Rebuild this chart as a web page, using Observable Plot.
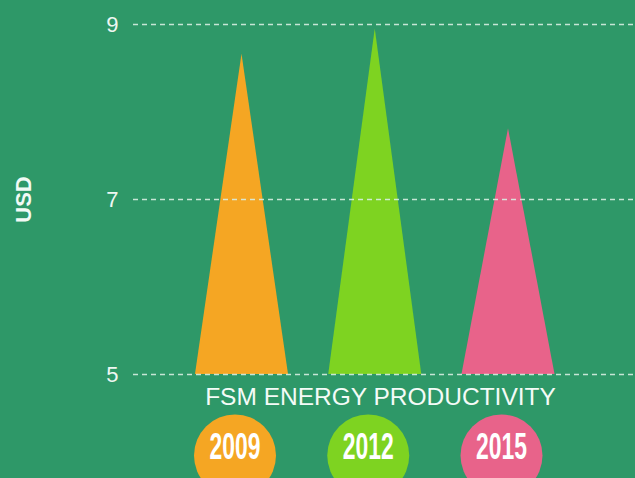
<!DOCTYPE html>
<html>
<head>
<meta charset="utf-8">
<script src="https://cdn.jsdelivr.net/npm/d3@7"></script>
<script src="https://cdn.jsdelivr.net/npm/@observablehq/plot@0.6"></script>
<style>
  html, body { margin: 0; padding: 0; background: #2e9868; }
  #chart { width: 635px; height: 478px; overflow: hidden; }
</style>
</head>
<body>
<div id="chart"></div>
<script>
// Data
const years = ["2009", "2012", "2015"];
const values = [8.66, 8.95, 7.81];
const colors = ["#f5a623", "#7ed321", "#e8638a"];
const yTicks = [5, 7, 9];
const title = "FSM ENERGY PRODUCTIVITY";
const yLabel = "USD";

const base = yTicks[0];
const half = 0.349;

// Triangle outlines (area between base and apex)
const tri = years.flatMap((yr, i) => [
  {year: yr, x: i - half, y0: base, y: base},
  {year: yr, x: i, y0: base, y: values[i]},
  {year: yr, x: i + half, y0: base, y: base}
]);
const labels = years.map((yr, i) => ({year: yr, i}));

const chart = Plot.plot({
  width: 635,
  height: 478,
  marginTop: 24,
  marginBottom: 104,
  marginLeft: 133,
  marginRight: 0,
  style: {background: "#2e9868", fontFamily: "'Liberation Sans', Arial, sans-serif", overflow: "visible"},
  x: {domain: [0, 2], range: [241.5, 508], axis: null},
  y: {domain: [5, 9], axis: null},
  color: {domain: years, range: colors},
  marks: [
    Plot.areaY(tri, {x: "x", y1: "y0", y2: "y", z: "year", fill: "year", curve: "linear"}),
    Plot.ruleY(yTicks, {stroke: "#d8eee2", strokeWidth: 1.7, strokeDasharray: "5,4", strokeOpacity: 0.9}),
    Plot.axisY(yTicks, {tickSize: 0, tickPadding: 15, fontSize: 22, fill: "#eef7f2", label: null, tickFormat: d3.format("d")}),
    Plot.text([yLabel], {frameAnchor: "left", textAnchor: "middle", rotate: -90, dx: -110, fontSize: 22, fontWeight: "bold", fill: "#f2faf5"}),
    Plot.text([title], {frameAnchor: "bottom", dx: -4, dy: 22.5, lineAnchor: "middle", fontSize: 24.5, fill: "#f4fbf7"}),
    Plot.dot(labels, {x: "i", y: () => base, dx: -7, dy: 81, r: 41, fill: "year", stroke: null}),
    Plot.text(labels, {x: "i", y: () => base, dx: -7, dy: 72.5, text: "year", lineAnchor: "middle", fontSize: 37, fontWeight: "bold", fill: "#ffffff", fontFamily: "'Liberation Sans Narrow', 'Liberation Sans', Arial, sans-serif"})
  ]
});

// condense year labels like the reference's narrow display font
d3.select(chart).selectAll("text").filter(function () { return years.includes(this.textContent); })
  .attr("textLength", 51).attr("lengthAdjust", "spacingAndGlyphs");

document.getElementById("chart").appendChild(chart);
</script>
</body>
</html>
